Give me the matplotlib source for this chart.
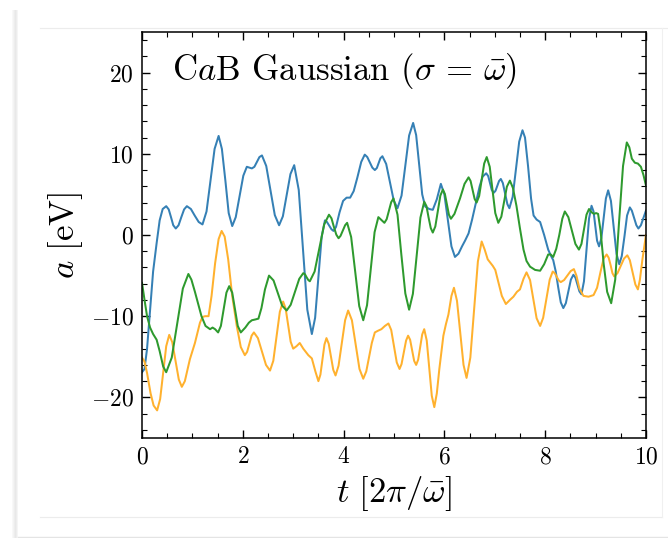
import matplotlib

matplotlib.use("Agg")
import matplotlib.pyplot as plt
from matplotlib.lines import Line2D
from matplotlib.patches import Rectangle
from matplotlib.ticker import MultipleLocator

# values (t in units of 2pi/omega_bar, a in eV)
t_blue = [0.00, 0.05, 0.10, 0.16, 0.22, 0.29, 0.35, 0.41, 0.48, 0.53, 0.575, 0.62, 0.67,
          0.725, 0.78, 0.835, 0.89, 0.97, 1.045, 1.125, 1.20, 1.28, 1.36, 1.44, 1.52,
          1.585, 1.655, 1.72, 1.79, 1.86, 1.935, 2.01, 2.08, 2.13, 2.18, 2.23, 2.28, 2.33,
          2.38, 2.465, 2.55, 2.635, 2.72, 2.795, 2.87, 2.945, 3.02, 3.11, 3.195, 3.28, 3.37,
          3.435, 3.50, 3.565, 3.63, 3.67, 3.715, 3.76, 3.80, 3.85, 3.92, 3.99, 4.06, 4.13,
          4.20, 4.27, 4.35, 4.42, 4.47, 4.52, 4.57, 4.62, 4.66, 4.695, 4.73, 4.77, 4.845,
          4.92, 4.995, 5.07, 5.15, 5.225, 5.30, 5.38, 5.44, 5.50, 5.56, 5.62, 5.70, 5.77,
          5.85, 5.93, 6.00, 6.07, 6.14, 6.21, 6.28, 6.35, 6.41, 6.48, 6.55, 6.63, 6.70,
          6.76, 6.83, 6.87, 6.905, 6.94, 6.98, 7.015, 7.05, 7.085, 7.12, 7.16, 7.205, 7.25,
          7.29, 7.355, 7.42, 7.485, 7.55, 7.60, 7.66, 7.72, 7.77, 7.83, 7.90, 7.98, 8.06,
          8.11, 8.16, 8.21, 8.26, 8.31, 8.36, 8.41, 8.46, 8.51, 8.56, 8.60, 8.64, 8.68,
          8.72, 8.77, 8.82, 8.87, 8.92, 8.96, 8.995, 9.03, 9.07, 9.115, 9.16, 9.205, 9.25,
          9.305, 9.36, 9.415, 9.47, 9.52, 9.575, 9.625, 9.68, 9.72, 9.765, 9.81, 9.85,
          9.90, 9.95, 10.0]
a_blue = [-16.9, -16.5, -14.0, -9.2, -4.5, -1.0, 1.8, 3.2, 3.55, 3.15, 2.2, 1.2, 0.8,
          1.2, 2.2, 3.15, 3.55, 3.2, 2.4, 1.6, 1.3, 2.9, 6.75, 10.6, 12.2,
          10.6, 6.65, 2.7, 1.1, 2.2, 4.75, 7.3, 8.4, 8.3, 8.2, 8.4, 9.0, 9.6,
          9.8, 8.5, 5.5, 2.45, 1.2, 2.3, 4.9, 7.5, 8.6, 5.55, -1.8, -9.2, -12.2,
          -10.2, -5.2, -0.2, 1.8, 1.6, 1.15, 0.7, 0.5, 1.0, 2.8, 4.2, 4.6, 4.6,
          5.4, 7.0, 9.0, 9.9, 9.6, 8.95, 8.3, 8.0, 8.25, 8.85, 9.45, 9.7, 8.75,
          6.5, 4.25, 3.3, 4.85, 8.55, 12.25, 13.8, 12.3, 8.65, 5.0, 3.5, 3.2, 3.1,
          4.4, 6.3, 5.0, 1.8, -1.4, -2.7, -2.3, -1.4, -0.7, 0.2, 1.9, 4.1, 6.0,
          7.2, 7.6, 7.25, 6.4, 5.55, 5.2, 5.45, 6.05, 6.65, 6.9, 6.4, 5.1, 3.8,
          3.3, 4.7, 8.1, 11.5, 12.9, 12.0, 8.5, 4.5, 2.4, 1.9, 1.6, 0.0, -1.8,
          -2.5, -3.1, -4.5, -6.5, -8.3, -9.0, -8.4, -6.95, -5.5, -4.9, -5.25, -6.1, -6.95,
          -7.3, -5.7, -1.85, 2.0, 3.6, 2.9, 1.1, -0.7, -1.4, -0.4, 2.05, 4.5, 5.5,
          4.2, 0.95, -2.3, -3.6, -2.6, -0.1, 2.4, 3.4, 3.0, 2.1, 1.2, 0.8,
          1.2, 2.1, 3.0]

t_orange = [0.00, 0.05, 0.10, 0.17, 0.23, 0.30, 0.36, 0.42, 0.48, 0.54, 0.60, 0.665, 0.73,
            0.79, 0.85, 0.95, 1.05, 1.15, 1.20, 1.25, 1.32, 1.38, 1.45, 1.52, 1.58, 1.64,
            1.71, 1.79, 1.88, 1.96, 2.04, 2.085, 2.13, 2.175, 2.22, 2.30, 2.38, 2.46, 2.54,
            2.605, 2.67, 2.735, 2.80, 2.85, 2.90, 2.95, 3.00, 3.065, 3.13, 3.20, 3.30, 3.37,
            3.44, 3.50, 3.54, 3.58, 3.62, 3.66, 3.705, 3.75, 3.795, 3.84, 3.90, 3.965, 4.03,
            4.09, 4.165, 4.24, 4.315, 4.39, 4.45, 4.50, 4.56, 4.62, 4.68, 4.75, 4.82, 4.89,
            4.945, 5.00, 5.055, 5.11, 5.15, 5.195, 5.24, 5.28, 5.32, 5.36, 5.40, 5.44, 5.48,
            5.52, 5.56, 5.60, 5.65, 5.70, 5.75, 5.80, 5.85, 5.90, 5.98, 6.03, 6.08, 6.14,
            6.19, 6.25, 6.315, 6.38, 6.44, 6.515, 6.59, 6.665, 6.74, 6.80, 6.86, 6.91, 6.96,
            7.01, 7.07, 7.14, 7.22, 7.30, 7.37, 7.44, 7.50, 7.57, 7.63, 7.70, 7.765, 7.83,
            7.90, 7.96, 8.025, 8.09, 8.15, 8.19, 8.23, 8.27, 8.31, 8.375, 8.44, 8.505, 8.57,
            8.62, 8.68, 8.76, 8.86, 8.96, 9.03, 9.10, 9.16, 9.22, 9.26, 9.30, 9.335, 9.37,
            9.435, 9.50, 9.565, 9.63, 9.68, 9.735, 9.79, 9.84, 9.88, 9.93, 10.0]
a_orange = [-15.1, -15.6, -17.0, -19.5, -21.0, -21.6, -20.2, -16.95, -13.7, -12.3, -13.2, -15.5, -17.8,
            -18.7, -18.0, -15.3, -13.3, -10.8, -10.1, -10.0, -10.0, -7.5, -3.5, -0.5, 0.5, -0.2,
            -3.0, -7.5, -11.2, -13.8, -14.8, -14.4, -13.4, -12.4, -12.0, -12.7, -14.35, -16.0, -16.7,
            -15.5, -12.45, -9.45, -8.2, -9.05, -11.1, -13.15, -14.0, -13.7, -13.3, -14.0, -14.8, -15.2,
            -16.8, -18.0, -17.2, -15.35, -13.5, -12.7, -13.4, -15.0, -16.6, -17.3, -16.1, -13.3, -10.5,
            -9.3, -10.5, -13.5, -16.5, -17.7, -16.8, -15.2, -13.3, -12.0, -11.8, -11.6, -11.2, -10.9,
            -11.7, -13.7, -15.7, -16.5, -15.9, -14.45, -13.0, -12.4, -12.9, -14.2, -15.5, -16.0, -15.35,
            -13.8, -12.25, -11.6, -13.0, -16.4, -19.8, -21.2, -19.5, -16.5, -12.4, -11.0, -9.8, -7.5,
            -6.5, -8.1, -12.05, -16.0, -17.6, -15.1, -9.2, -3.25, -0.8, -1.8, -3.0, -3.4, -3.8,
            -4.3, -5.8, -7.5, -8.5, -8.0, -7.6, -7.0, -6.7, -5.4, -4.6, -5.55, -7.9, -10.25,
            -11.2, -10.2, -7.85, -5.5, -4.5, -4.7, -5.15, -5.6, -5.8, -5.55, -5.0, -4.45, -4.2,
            -5.0, -6.6, -7.5, -7.6, -7.4, -6.5, -4.5, -2.9, -2.4, -2.8, -3.75, -4.7, -5.1,
            -4.7, -3.8, -2.9, -2.5, -3.1, -4.6, -6.1, -6.7, -5.5, -3.0, 0.0]

t_green = [0.00, 0.05, 0.10, 0.16, 0.22, 0.29, 0.35, 0.42, 0.48, 0.59, 0.70, 0.81, 0.92,
           0.98, 1.05, 1.12, 1.18, 1.26, 1.35, 1.40, 1.45, 1.51, 1.565, 1.62, 1.675, 1.73,
           1.79, 1.845, 1.90, 1.96, 2.05, 2.12, 2.18, 2.25, 2.31, 2.37, 2.44, 2.52, 2.61,
           2.695, 2.78, 2.87, 2.95, 3.035, 3.12, 3.20, 3.235, 3.265, 3.30, 3.33, 3.425, 3.52,
           3.615, 3.71, 3.76, 3.805, 3.855, 3.90, 3.94, 3.985, 4.03, 4.07, 4.15, 4.23, 4.31,
           4.39, 4.465, 4.54, 4.615, 4.69, 4.75, 4.81, 4.855, 4.90, 4.945, 4.99, 5.07, 5.145,
           5.225, 5.30, 5.375, 5.45, 5.525, 5.60, 5.645, 5.685, 5.73, 5.77, 5.82, 5.87, 5.92,
           5.97, 6.01, 6.05, 6.09, 6.13, 6.20, 6.31, 6.40, 6.48, 6.52, 6.56, 6.60, 6.64,
           6.69, 6.74, 6.79, 6.84, 6.90, 6.955, 7.01, 7.07, 7.13, 7.185, 7.24, 7.30, 7.36,
           7.43, 7.50, 7.57, 7.63, 7.70, 7.80, 7.90, 7.98, 8.06, 8.11, 8.16, 8.22, 8.28,
           8.34, 8.39, 8.46, 8.53, 8.60, 8.67, 8.72, 8.77, 8.82, 8.87, 8.92, 8.97, 9.01,
           9.05, 9.10, 9.16, 9.23, 9.31, 9.39, 9.465, 9.545, 9.62, 9.67, 9.72, 9.78, 9.84,
           9.90, 9.95, 10.0]
a_green = [-5.9, -8.0, -10.0, -11.4, -12.2, -12.9, -14.3, -16.2, -16.9, -15.1, -10.85, -6.6, -4.8,
           -5.5, -7.0, -8.6, -10.0, -11.2, -11.6, -11.4, -11.6, -12.0, -11.2, -9.15, -7.1, -6.3,
           -7.1, -9.15, -11.2, -12.0, -11.4, -10.8, -10.5, -10.4, -10.3, -9.0, -6.7, -5.0, -5.6,
           -7.15, -8.7, -9.3, -8.6, -7.0, -5.4, -4.7, -4.85, -5.2, -5.55, -5.7, -4.5, -1.6,
           1.3, 2.5, 2.05, 1.05, 0.05, -0.4, -0.1, 0.55, 1.2, 1.5, -0.25, -4.5, -8.75,
           -10.5, -8.65, -4.15, 0.35, 2.2, 1.85, 1.5, 1.95, 3.0, 4.05, 4.5, 2.5, -2.35,
           -7.2, -9.2, -7.25, -2.55, 2.15, 4.1, 3.55, 2.2, 0.85, 0.3, 1.05, 2.95, 4.85,
           5.6, 5.05, 3.8, 2.5, 2.0, 2.6, 4.5, 6.3, 7.1, 6.65, 5.55, 4.45, 4.0,
           4.8, 6.8, 8.8, 9.6, 8.4, 5.55, 2.7, 1.5, 2.25, 4.1, 5.95, 6.7, 5.8,
           3.6, 0.8, -1.8, -3.2, -3.9, -4.3, -4.4, -3.6, -2.4, -2.4, -2.7, -1.7, 0.0,
           2.0, 2.9, 2.2, 0.55, -1.1, -1.8, -1.1, 0.7, 2.5, 3.2, 2.8, 2.6, 2.7,
           2.6, 0.5, -3.5, -7.0, -8.4, -5.5, 1.5, 8.5, 11.4, 10.8, 9.4, 8.9, 8.8,
           8.4, 7.4, 6.1]

plt.rcParams["font.family"] = "serif"
plt.rcParams["font.serif"] = ["cmr10", "DejaVu Serif"]
plt.rcParams["mathtext.fontset"] = "cm"
plt.rcParams["axes.formatter.use_mathtext"] = True

fig = plt.figure(figsize=(6.68, 5.38), dpi=100)
ax = fig.add_axes([0.2126, 0.1859, 0.967 - 0.2126, 0.9405 - 0.1859])

ax.plot(t_blue, a_blue, color="#3580b5", lw=1.45, solid_joinstyle="round")
ax.plot(t_orange, a_orange, color="#ffb12e", lw=1.45, solid_joinstyle="round")
ax.plot(t_green, a_green, color="#2e9a2e", lw=1.45, solid_joinstyle="round")

ax.set_xlim(0, 10)
ax.set_ylim(-25, 25)
ax.xaxis.set_major_locator(MultipleLocator(2))
ax.xaxis.set_minor_locator(MultipleLocator(0.5))
ax.yaxis.set_major_locator(MultipleLocator(10))
ax.yaxis.set_minor_locator(MultipleLocator(2))
ax.tick_params(which="both", direction="in", top=True, right=True, labelsize=17)
ax.tick_params(which="major", length=6, width=1.0, pad=6)
ax.tick_params(which="minor", length=3.5, width=0.8)
for s in ax.spines.values():
    s.set_linewidth(1.1)

ax.set_xlabel(r"$t\ [2\pi/\bar{\omega}]$", fontsize=25, labelpad=4)
ax.set_ylabel(r"$a\ [\mathrm{eV}]$", fontsize=25, labelpad=4)
ax.text(0.06, 0.905, r"C$a$B Gaussian ($\sigma\,=\,\bar{\omega}$)", transform=ax.transAxes,
        fontsize=25, va="center", ha="left")

# screenshot-like card frame around the figure
W, H = 668.0, 538.0
for i, alpha in enumerate([0.05, 0.09, 0.14, 0.18, 0.14, 0.08]):
    fig.add_artist(Rectangle(((12 + i) / W, 0), 1 / W, (H - 10) / H, transform=fig.transFigure,
                             color="gray", alpha=alpha, lw=0))
fig.add_artist(Line2D([40 / W, 1], [1 - 28 / H, 1 - 28 / H], transform=fig.transFigure,
                      color="#ececec", lw=0.8))
fig.add_artist(Line2D([40 / W, 662 / W], [1 - 517 / H, 1 - 517 / H], transform=fig.transFigure,
                      color="#ececec", lw=0.8))
fig.add_artist(Line2D([662 / W, 662 / W], [1 - 28 / H, 1 - 517 / H], transform=fig.transFigure,
                      color="#f0f0f0", lw=0.8))
fig.add_artist(Line2D([18 / W, 1], [1 - 537 / H, 1 - 537 / H], transform=fig.transFigure,
                      color="#e4e4e4", lw=1.0))

fig.savefig("out.png", dpi=100)
